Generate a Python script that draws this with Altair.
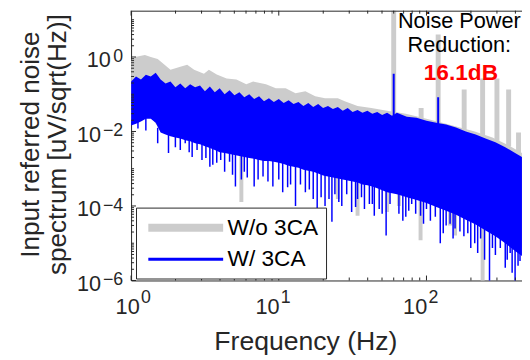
import altair as alt
import pandas as pd

FONT = "Liberation Sans"
INK = "#262626"
W, H = 397, 274

# ---------------- data ----------------
# frequency in Hz, level in dB re 1 uV/sqrt(Hz)  (converted to uV/sqrt(Hz) below)
gray_f = [1.0, 1.063, 1.24, 1.359, 1.514, 1.685, 1.848, 2.154, 2.399, 2.672, 3.114, 3.363,
          3.802, 4.433, 5.168, 6.026, 6.709, 8.19, 9.55, 11.13, 12.98, 15.14, 17.65, 20.57,
          25.12, 27.97, 34.15, 42.34, 54.12, 72.44, 100, 135.9, 168.5, 212.2, 279.7, 368.6, 443]
gray_top_db = [-1.58, 0, 1.05, 0, -1.05, -4.21, -6.84, -5.26, -4.21, -6.84, -8.95, -6.84,
               -9.47, -11.6, -12.1, -14.7, -13.2, -14.7, -16.8, -16.8, -19.5, -18.4, -21.1, -22.1,
               -22.1, -23.7, -26.3, -27.4, -28.9, -30.5, -33.2, -35.8, -37.9, -40.0, -43.2, -47.9, -51.6]
gray_low_db = [-34.7, -33.7, -31.6, -32.1, -37.4, -39.5, -40.0, -41.6, -42.6, -43.7, -45.3, -46.3,
               -47.9, -50.0, -51.1, -51.6, -52.1, -52.6, -53.7, -54.7, -55.8, -56.8, -57.9, -59.5,
               -61.1, -62.1, -63.7, -65.8, -68.4, -71.1, -74.7, -78.9, -82.1, -86.3, -91.1, -97.4, -102.6]

blue_f = [1.0, 1.080, 1.166, 1.259, 1.359, 1.468, 1.585, 1.711, 1.848, 1.995,
          2.154, 2.326, 2.512, 2.712, 2.929, 3.162, 3.415, 3.687, 3.981, 4.299,
          4.642, 5.012, 5.412, 5.843, 6.310, 6.813, 7.356, 7.943, 8.577, 9.261,
          10.0, 10.80, 11.66, 12.59, 13.59, 14.68, 15.85, 17.11, 18.48, 19.95,
          21.54, 23.26, 25.12, 27.12, 29.29, 31.62, 34.15, 36.87, 39.81, 42.99,
          46.42, 50.12, 54.12, 58.43,
          63.10, 73.56, 85.77, 100, 116.6, 135.9, 158.5, 184.8, 215.4, 251.2, 292.9, 341.5, 398.1,
          443]
blue_top_db = [-13.2, -10.5, -12.1, -9.5, -10.5, -8.4, -12.1, -14.2, -13.2, -16.3,
               -14.2, -16.8, -14.7, -16.3, -15.3, -18.4, -15.8, -18.9, -16.8, -20.0,
               -17.9, -20.5, -18.9, -21.6, -20.0, -22.6, -21.1, -23.7, -22.1, -24.2,
               -22.6, -24.7, -23.2, -25.3, -24.2, -26.3, -24.7, -26.8, -25.3, -27.4,
               -26.3, -27.9, -26.8, -28.9, -27.4, -29.5, -28.4, -30.0, -28.9, -30.5,
               -29.5, -31.1, -30.0, -31.6,
               -30.0, -32.1, -32.6, -34.2, -35.3, -36.3, -37.9, -40.0, -41.6, -43.7, -45.8, -48.4, -51.6,
               -53.7]
blue_low_db = [-36.8, -35.8, -34.7, -33.2, -33.2, -35.3, -40.5, -41.6, -42.6, -43.2,
               -43.7, -44.7, -45.3, -46.3, -46.8, -47.9, -48.9, -50.0, -51.1, -51.6,
               -52.1, -52.6, -53.2, -53.7, -54.2, -54.7, -55.3, -55.8, -55.8, -56.3,
               -56.8, -57.4, -58.4, -58.9, -59.5, -60.5, -61.1, -61.6, -62.6, -63.7,
               -64.2, -64.7, -65.3, -65.8, -66.3, -66.8, -67.4, -68.4, -68.9, -69.5,
               -70.5, -71.6, -72.6, -73.2,
               -73.7, -75.3, -76.8, -78.4, -80.5, -82.6, -84.7, -87.4, -90.0, -93.2, -96.3, -100.0, -104.2,
               -106.8]

# downward dips of the W/ 3CA spectrum
blue_dip_f = [1.113, 1.259, 1.514, 1.792, 1.995, 2.326, 2.591, 2.797, 3.020, 3.415, 3.802, 4.299,
              4.642, 5.088, 5.581, 6.119, 6.813, 7.822, 9.12, 10.0, 10.63, 12.02, 12.98, 14.02,
              15.14, 17.11, 18.2, 20.57, 22.9, 23.99, 26.71, 28.84, 31.14, 34.15, 38.02, 41.06,
              44.33, 47.86, 53.31, 65.08, 72.44, 79.43, 84.5, 91.2, 100, 106.3, 114.8, 124,
              135.9, 144.5, 156.1, 168.5, 190.5, 212.2, 232.6, 267.2, 292.9, 316.2, 341.5, 368.6,
              398.1, 429.9,
              2.154, 2.474, 3.211, 3.575, 4.044, 4.862, 5.843, 7.244, 8.447, 11.48, 16.1, 19.35,
              21.88, 25.5, 33.11, 36.31, 43.0, 50.12, 56.65, 69.18, 75.86, 95.5, 129.9, 151.4,
              179.2, 199.5, 222.2, 247.4, 279.7, 352.2, 380.2, 416.9]
blue_dip_tip_db = [-38.4, -39.5, -46.3, -51.6, -48.4, -46.3, -53.7, -50.0, -55.3, -58.9, -56.8, -61.6,
                   -56.3, -69.5, -65.8, -64.7, -69.5, -64.2, -69.5, -65.8, -72.6, -68.4, -80.0, -68.4,
                   -72.6, -76.3, -83.2, -80.0, -88.4, -73.7, -80.0, -73.7, -83.2, -76.3, -81.6, -78.9,
                   -85.3, -81.6, -95.8, -84.2, -85.8, -78.9, -84.2, -85.3, -81.6, -87.9, -85.8, -100.0,
                   -90.5, -89.5, -92.1, -93.7, -94.7, -100.0, -97.4, -122, -106.3, -102.6, -113.2, -105.3,
                   -122, -109.5,
                   -50.0, -51.1, -54.2, -57.9, -55.3, -63.2, -61.6, -65.8, -66.8, -70.0, -71.1, -75.3,
                   -76.3, -77.9, -80.5, -75.3, -78.9, -84.2, -78.9, -87.9, -82.6, -89.5, -94.7, -97.4,
                   -96.3, -102.6, -105.3, -108.9, -102.6, -108.9, -115.8, -112.1]
blue_dip_base_db = [-30, -30, -38, -40, -40, -41, -42, -43, -44, -46, -47, -48,
                    -49, -50, -50, -50, -51, -52, -53, -53, -54, -54, -55, -56,
                    -57, -58, -58, -59, -60, -60, -61, -62, -62, -63, -64, -65,
                    -66, -66, -67, -69, -70, -71, -72, -73, -74, -75, -76, -77,
                    -79, -80, -81, -82, -85, -88, -90, -90, -92, -94, -96, -98,
                    -100, -101,
                    -41, -42, -45, -46, -47, -49, -50, -51, -52, -54, -57, -58,
                    -59, -60, -63, -64, -65, -66, -67, -69, -70, -73, -78, -80,
                    -83, -86, -88, -89, -91, -97, -99, -100]
# mains tones of the W/ 3CA spectrum
blue_tone_f = [60, 120]
blue_tone_tip_db = [-8.95, -21.6]
blue_tone_base_db = [-40, -45]

# downward dips of the W/o 3CA spectrum that show below the blue one
gray_dip_f = [5.581, 25.12, 34.15, 54.12, 65.08, 91.2, 144.5, 156.1, 240]
gray_dip_tip_db = [-77.9, -76.3, -85.3, -83.2, -80.0, -98.4, -90.5, -95.8, -122]
gray_dip_base_db = [-45, -58, -60, -64, -67, -70, -78, -79, -88]
# mains tones of the W/o 3CA spectrum
gray_tone_f = [60, 92, 120, 180, 240, 300, 360, 420]
gray_tone_tip_db = [30, -27.4, 12.1, -17.4, -11.6, -11.6, -17.4, -40.5]
gray_tone_base_db = [-30, -36, -36, -40, -42, -45, -48, -52]

series_names = ["W/o 3CA", "W/ 3CA"]
series_colors = ["#CCCCCC", "#0000FF"]
series_widths = [8, 3]

x_tick_values = [1, 10, 100]
x_tick_exponents = ["0", "1", "2"]
x_minor_ticks = [2, 3, 4, 5, 6, 7, 8, 9, 20, 30, 40, 50, 60, 70, 80, 90, 200, 300, 400]
y_tick_values = [1e-6, 1e-4, 1e-2, 1]
y_tick_exponents = ["\u22126", "\u22124", "\u22122", "0"]
y_minor_ticks = [k * 10.0 ** n for n in range(-6, 2) for k in range(1, 10)
                 if k * 10.0 ** n <= 17 and (k != 1 or n not in (-6, -4, -2, 0))]

note_lines = ["Noise Power", "Reduction:"]
note_f = [167, 167]
note_v = [6.16, 1.35]
result_text = ["16.1dB"]
result_f = [171]
result_v = [0.234]


def amp(db):
    return [10 ** (d / 20.0) for d in db]


# ---------------- scales & axes ----------------
xs = alt.Scale(type="log", domain=[1, 443.4], nice=False)
ys = alt.Scale(type="log", domain=[1e-6, 17.5], nice=False)

x_axis = alt.Axis(
    values=x_tick_values, labelExpr="'10'", grid=False, ticks=False, tickSize=0,
    domainColor=INK, domainWidth=1, labelFont=FONT, labelFontSize=22, labelColor=INK,
    labelAlign="center", labelBaseline="top", labelPadding=17, labelFlush=False,
    labelOverlap=False,
    labelOffset={"condition": {"test": "datum.value == 1", "value": -4}, "value": -12},
    title="Frequency (Hz)", titleFont=FONT, titleFontSize=27, titleFontWeight="normal",
    titleColor=INK, titleX=177, titleY=70, titleAlign="center", titleBaseline="alphabetic",
)
y_axis = alt.Axis(
    values=y_tick_values, labelExpr="'10'", grid=False, ticks=False, tickSize=0,
    domainColor=INK, domainWidth=1, labelFont=FONT, labelFontSize=22, labelColor=INK,
    labelAlign="right", labelBaseline="middle", labelOffset=3, labelFlush=False,
    labelOverlap=False,
    labelPadding={"condition": {"test": "datum.value == 1", "value": 21}, "value": 31},
    title=["Input referred noise", "spectrum [uV/sqrt(Hz)]"], titleFont=FONT,
    titleFontSize=26.5, titleFontWeight="normal", titleColor=INK, titleLineHeight=27,
    titleAngle=270, titleX=-94, titleY=135.5, titleAlign="center", titleBaseline="alphabetic",
)


def X(field):
    return alt.X(field, type="quantitative", scale=xs, axis=x_axis)


def Y(field):
    return alt.Y(field, type="quantitative", scale=ys, axis=y_axis)


def band(f, top, low, color):
    df = pd.DataFrame({"f": f, "top": amp(top), "low": amp(low)})
    return alt.Chart(df).mark_area(color=color, opacity=1, clip=True).encode(
        x=X("f"), y=Y("top"), y2=alt.Y2("low"))


def spikes(f, tip, base, color, width):
    df = pd.DataFrame({"f": f, "tip": amp(tip), "base": amp(base)})
    return alt.Chart(df).mark_rule(color=color, strokeWidth=width, clip=True).encode(
        x=X("f"), y=Y("tip"), y2=alt.Y2("base"))


gray_band = band(gray_f, gray_top_db, gray_low_db, series_colors[0])
gray_dips = spikes(gray_dip_f, gray_dip_tip_db, gray_dip_base_db, series_colors[0], 4)
gray_tones = spikes(gray_tone_f, gray_tone_tip_db, gray_tone_base_db, series_colors[0], 5)
blue_band = band(blue_f, blue_top_db, blue_low_db, series_colors[1])
blue_dips = spikes(blue_dip_f, blue_dip_tip_db, blue_dip_base_db, series_colors[1], 1.5)
blue_tones = spikes(blue_tone_f, blue_tone_tip_db, blue_tone_base_db, series_colors[1], 2)

# legend (driven by the series scale); a long horizontal stroke as the symbol
leg_df = pd.DataFrame({"series": series_names, "f": [float("nan")] * 2, "v": [float("nan")] * 2})
leg_props = dict(title=None, orient="none", legendX=5, legendY=200, strokeColor=INK,
                 fillColor="white", padding=7, rowPadding=4, symbolType="M-4,0H4",
                 symbolSize=361, symbolOffset=30, labelFont=FONT, labelFontSize=23,
                 labelColor="black", labelOffset=29)
legend_layer = alt.Chart(leg_df).mark_line().encode(
    x=X("f"), y=Y("v"),
    color=alt.Color("series:N", scale=alt.Scale(domain=series_names, range=series_colors),
                    legend=alt.Legend(**leg_props)),
    strokeWidth=alt.StrokeWidth("series:N",
                                scale=alt.Scale(domain=series_names, range=series_widths),
                                legend=alt.Legend(**leg_props)),
)

# inward ticks (box style)
xt_major = pd.DataFrame({"f": x_tick_values})
xt_minor = pd.DataFrame({"f": x_minor_ticks})
yt_major = pd.DataFrame({"v": y_tick_values})
yt_minor = pd.DataFrame({"v": y_minor_ticks})


def xticks(df, length):
    b = alt.Chart(df).mark_rule(color=INK, strokeWidth=1).encode(
        x=X("f"), y=alt.value(H), y2=alt.value(H - length))
    t = alt.Chart(df).mark_rule(color=INK, strokeWidth=1).encode(
        x=X("f"), y=alt.value(0), y2=alt.value(length))
    return [b, t]


def yticks(df, length):
    return [alt.Chart(df).mark_rule(color=INK, strokeWidth=1).encode(
        y=Y("v"), x=alt.value(0), x2=alt.value(length))]


top_border = alt.Chart(pd.DataFrame({"a": [0]})).mark_rule(color=INK, strokeWidth=1).encode(
    x=alt.value(0), x2=alt.value(W), y=alt.value(0.5))

# superscript exponents of the tick labels
yexp = alt.Chart(pd.DataFrame({"v": y_tick_values, "txt": y_tick_exponents})).mark_text(
    align="right", baseline="alphabetic", dy=5, font=FONT, fontSize=18, color=INK
).encode(y=Y("v"), x=alt.value(-8), text="txt:N")
xexp_df = pd.DataFrame({"f": x_tick_values, "txt": x_tick_exponents})
xexp0 = alt.Chart(xexp_df.iloc[:1]).mark_text(
    align="left", baseline="alphabetic", dx=10, font=FONT, fontSize=18, color=INK
).encode(x=X("f"), y=alt.value(H + 23), text="txt:N")
xexp1 = alt.Chart(xexp_df.iloc[1:]).mark_text(
    align="left", baseline="alphabetic", dx=2, font=FONT, fontSize=18, color=INK
).encode(x=X("f"), y=alt.value(H + 23), text="txt:N")

# annotation
note = alt.Chart(pd.DataFrame({"f": note_f, "v": note_v, "txt": note_lines})).mark_text(
    align="center", baseline="alphabetic", font=FONT, fontSize=22, color="black"
).encode(x=X("f"), y=Y("v"), text="txt:N")
result = alt.Chart(pd.DataFrame({"f": result_f, "v": result_v, "txt": result_text})).mark_text(
    align="center", baseline="alphabetic", font=FONT, fontSize=23, fontWeight="bold",
    color="#FF0000"
).encode(x=X("f"), y=Y("v"), text="txt:N")

layers = [gray_band, gray_dips, gray_tones, blue_band, blue_dips, blue_tones, legend_layer]
layers += xticks(xt_major, 5) + xticks(xt_minor, 3) + yticks(yt_major, 5) + yticks(yt_minor, 3)
layers += [top_border, yexp, xexp0, xexp1, note, result]

chart = alt.layer(*layers).properties(
    width=W, height=H,
    padding={"left": 125, "top": 0, "right": 0, "bottom": 76},
    autosize=alt.AutoSizeParams(type="none"),
).configure_view(stroke=None)

chart.save("out.html", embed_options={"renderer": "svg", "actions": False})
